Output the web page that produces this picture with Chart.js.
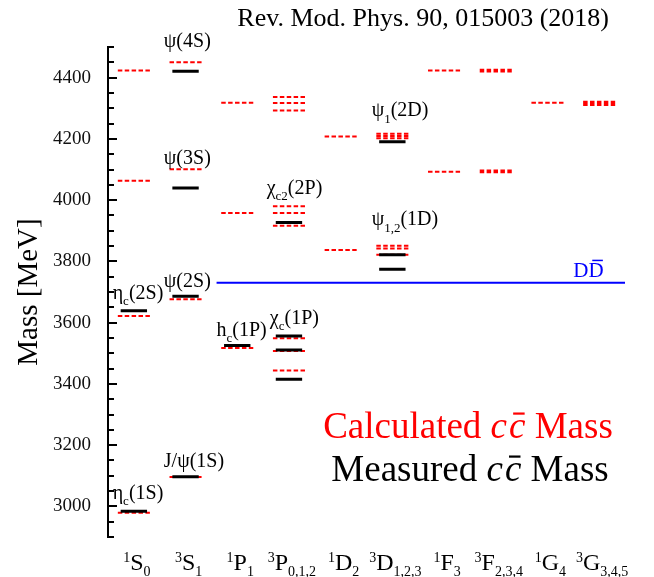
<!DOCTYPE html>
<html>
<head>
<meta charset="utf-8">
<script src="https://cdn.jsdelivr.net/npm/chart.js@4.4.0/dist/chart.umd.min.js"></script>
<style>
  html, body { margin: 0; padding: 0; background: #fff; }
  #wrap { width: 654px; height: 577px; }
</style>
</head>
<body>
<div id="wrap"><canvas id="spectrum" width="654" height="577"></canvas></div>
<script>
// ---------- Data ----------
const spinMult = ['1', '3', '1', '3', '1', '3', '1', '3', '1', '3'];
const orbital  = ['S', 'S', 'P', 'P', 'D', 'D', 'F', 'F', 'G', 'G'];
const totalJ   = ['0', '1', '1', '0,1,2', '2', '1,2,3', '3', '2,3,4', '4', '3,4,5'];

// calculated masses (MeV), one list per column
const calcMass = [
  [2979, 3622, 4063, 4423],
  [3096, 3676, 4101, 4450],
  [3517, 3958, 4318],
  [3444, 3507, 3549, 3916, 3958, 3980, 4293, 4317, 4337],
  [3837, 4208],
  [3822, 3842, 3851, 4202, 4209, 4217],
  [4093, 4423],
  [4091, 4094, 4097, 4420, 4423, 4426],
  [4318],
  [4311, 4316, 4321]
];

// measured masses (MeV)
const measMass = [
  [2984, 3639],
  [3097, 3686, 4040, 4421],
  [3525],
  [3415, 3511, 3556, 3927],
  [],
  [3774, 3822, 4191],
  [], [], [], []
];

const ddThreshold = 3730;
const yTicks = [3000, 3200, 3400, 3600, 3800, 4000, 4200, 4400];

const SERIF = "'Liberation Serif', 'Times New Roman', serif";

// ---------- Helpers ----------
function levelPoints(lists, half) {
  const pts = [];
  lists.forEach((masses, i) => {
    masses.forEach(m => {
      pts.push({ x: i - half, y: m }, { x: i + half, y: m }, { x: i, y: null });
    });
  });
  return pts;
}

// width of a run of text pieces
function richWidth(ctx, parts, size) {
  let w = 0;
  parts.forEach(p => {
    const s = p.small ? p.small : size;
    ctx.font = (p.italic ? 'italic ' : '') + s + 'px ' + SERIF;
    w += ctx.measureText(p.t).width + (p.gap || 0);
  });
  return w;
}

// draws text pieces (sub/sup/italic/overbar)
function drawRich(ctx, x, y, parts, size, color) {
  ctx.fillStyle = color;
  ctx.strokeStyle = color;
  ctx.textAlign = 'left';
  ctx.textBaseline = 'alphabetic';
  let cx = x;
  parts.forEach(p => {
    const s = p.small ? p.small : size;
    ctx.font = (p.italic ? 'italic ' : '') + s + 'px ' + SERIF;
    const w = ctx.measureText(p.t).width;
    ctx.fillText(p.t, cx, y + (p.dy || 0));
    if (p.bar) {
      ctx.lineWidth = Math.max(1.5, s * 0.06);
      ctx.beginPath();
      const by = y + (p.dy || 0) - s * (p.barH || 0.62);
      ctx.moveTo(cx + w * 0.25, by);
      ctx.lineTo(cx + w * 0.95, by);
      ctx.stroke();
    }
    cx += w + (p.gap || 0);
  });
  return cx - x;
}

// state labels placed in data units (column index, mass)
const notes = [
  { x: 0.58, y: 4499, parts: [{ t: 'ψ(4S)' }] },
  { x: 0.58, y: 4117, parts: [{ t: 'ψ(3S)' }] },
  { x: 0.58, y: 3715, parts: [{ t: 'ψ(2S)' }] },
  { x: 0.58, y: 3127, parts: [{ t: 'J/ψ(1S)' }] },
  { x: -0.41, y: 3676, parts: [{ t: 'η' }, { t: 'c', small: 13, dy: 6 }, { t: '(2S)' }] },
  { x: -0.41, y: 3024, parts: [{ t: 'η' }, { t: 'c', small: 13, dy: 6 }, { t: '(1S)' }] },
  { x: 1.60, y: 3556, parts: [{ t: 'h' }, { t: 'c', small: 13, dy: 6 }, { t: '(1P)' }] },
  { x: 2.63, y: 3595, parts: [{ t: 'χ' }, { t: 'c', small: 13, dy: 6 }, { t: '(1P)' }] },
  { x: 2.57, y: 4019, parts: [{ t: 'χ' }, { t: 'c2', small: 13, dy: 6 }, { t: '(2P)' }] },
  { x: 4.60, y: 4274, parts: [{ t: 'ψ' }, { t: '1', small: 13, dy: 7 }, { t: '(2D)' }] },
  { x: 4.60, y: 3918, parts: [{ t: 'ψ' }, { t: '1,2', small: 13, dy: 7 }, { t: '(1D)' }] }
];

// ---------- Plugin for text and axis ticks ----------
const spectrumText = {
  id: 'spectrumText',
  afterDraw(chart) {
    const ctx = chart.ctx;
    const xs = chart.scales.x, ys = chart.scales.y;
    const area = chart.chartArea;
    ctx.save();

    // inward ticks on the mass axis
    ctx.strokeStyle = '#000';
    ctx.lineWidth = 2;
    for (let v = 2900; v <= 4500; v += 50) {
      const py = Math.round(ys.getPixelForValue(v));
      const len = (v % 200 === 0) ? 9 : 6;
      ctx.beginPath();
      ctx.moveTo(area.left - 1, py);
      ctx.lineTo(area.left + len, py);
      ctx.stroke();
    }

    // reference line
    ctx.fillStyle = '#000';
    ctx.font = '26px ' + SERIF;
    ctx.textAlign = 'right';
    ctx.textBaseline = 'alphabetic';
    ctx.fillText('Rev. Mod. Phys. 90, 015003 (2018)', 609, 26);

    // state names
    notes.forEach(n => {
      drawRich(ctx, xs.getPixelForValue(n.x), ys.getPixelForValue(n.y), n.parts, 20, '#000');
    });

    // D Dbar threshold label
    drawRich(ctx, xs.getPixelForValue(8.5), ys.getPixelForValue(ddThreshold) - 6,
      [{ t: 'D' }, { t: 'D', bar: true, barH: 0.78 }], 21, '#0000ff');

    // spectroscopic column labels
    spinMult.forEach((s, i) => {
      const parts = [
        { t: s, small: 14, dy: -8 },
        { t: orbital[i] },
        { t: totalJ[i], small: 14, dy: 6 }
      ];
      const w = richWidth(ctx, parts, 24);
      drawRich(ctx, xs.getPixelForValue(i) + 3 - w / 2, 570, parts, 24, '#000');
    });

    // key text
    const calcParts = [{ t: 'Calculated ' }, { t: 'c', italic: true, gap: 2 }, { t: 'c', italic: true, bar: true, barH: 0.66 }, { t: ' Mass' }];
    const measParts = [{ t: 'Measured ' }, { t: 'c', italic: true, gap: 2 }, { t: 'c', italic: true, bar: true, barH: 0.66 }, { t: ' Mass' }];
    let w = richWidth(ctx, calcParts, 37);
    drawRich(ctx, 468 - w / 2, 438, calcParts, 37, '#ff0000');
    w = richWidth(ctx, measParts, 37);
    drawRich(ctx, 470 - w / 2, 481, measParts, 37, '#000');

    ctx.restore();
  }
};

// ---------- Chart ----------
const ctx = document.getElementById('spectrum').getContext('2d');
new Chart(ctx, {
  type: 'line',
  data: {
    datasets: [
      {
        label: 'Measured',
        data: levelPoints(measMass, 0.255),
        borderColor: '#000',
        borderWidth: 3,
        pointRadius: 0,
        spanGaps: false,
        order: 0
      },
      {
        label: 'Calculated',
        data: levelPoints(calcMass, 0.31),
        borderColor: '#ff0000',
        borderWidth: 2,
        borderDash: [4.5, 2.4],
        pointRadius: 0,
        spanGaps: false,
        order: 1
      },
      {
        label: 'DD threshold',
        data: [{ x: 1.6, y: ddThreshold }, { x: 9.5, y: ddThreshold }],
        borderColor: '#0000ff',
        borderWidth: 2,
        pointRadius: 0,
        order: 2
      }
    ]
  },
  options: {
    responsive: false,
    animation: false,
    layout: { padding: { left: 0, right: 29, top: 47, bottom: 40 } },
    plugins: {
      legend: { display: false },
      tooltip: { enabled: false },
      title: { display: false }
    },
    scales: {
      x: { type: 'linear', min: -0.5, max: 9.5, display: false },
      y: {
        type: 'linear',
        min: 2900,
        max: 4500,
        afterBuildTicks: scale => { scale.ticks = yTicks.map(v => ({ value: v })); },
        afterFit: scale => { scale.width = 108; },
        grid: { display: false },
        border: { display: true, color: '#000', width: 2 },
        ticks: {
          color: '#111',
          padding: 9,
          font: { family: SERIF, size: 19 },
          callback: v => String(v)
        },
        title: {
          display: true,
          text: 'Mass [MeV]',
          color: '#000',
          font: { family: SERIF, size: 29 },
          padding: { top: 12, bottom: 0 }
        }
      }
    }
  },
  plugins: [spectrumText]
});
</script>
</body>
</html>
